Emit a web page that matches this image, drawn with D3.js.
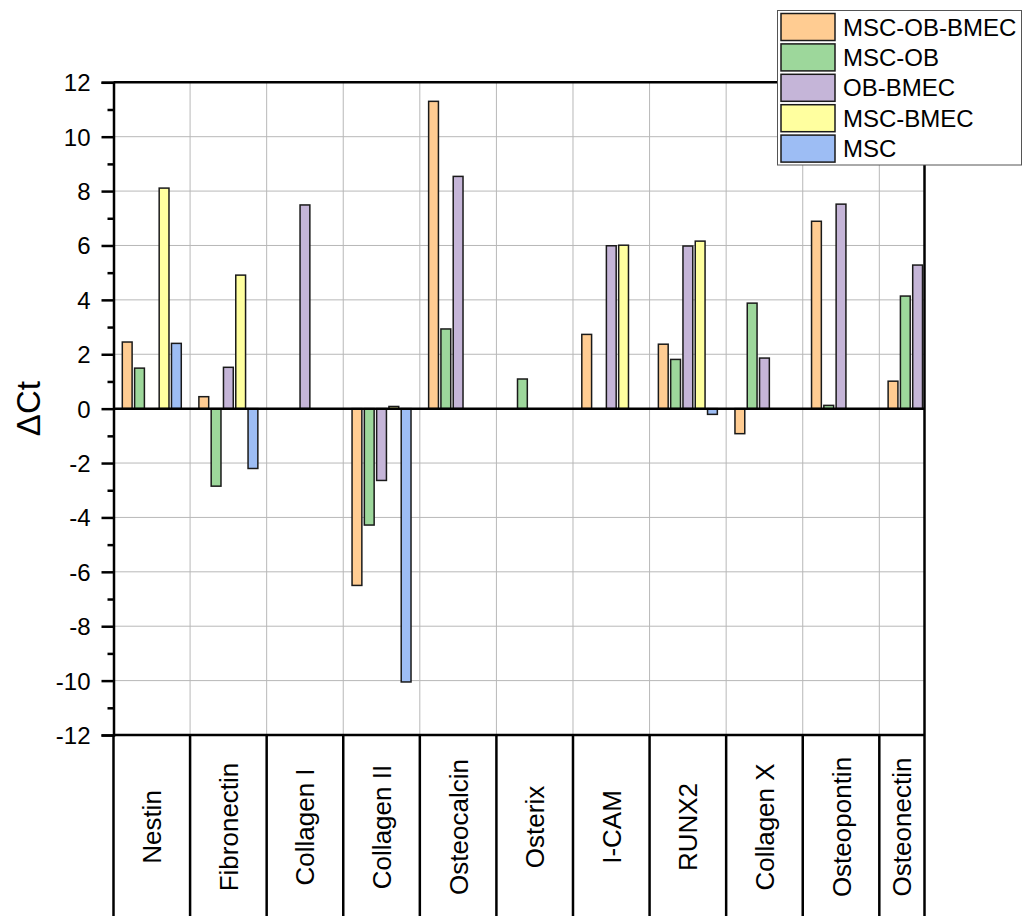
<!DOCTYPE html>
<html>
<head>
<meta charset="utf-8">
<script src="https://cdnjs.cloudflare.com/ajax/libs/d3/7.8.5/d3.min.js"></script>
<style>
  body { margin: 0; background: #fff; }
  text { font-family: "Liberation Sans", Arial, sans-serif; fill: #000; }
</style>
</head>
<body>
<div id="chart"></div>
<script>
// data
let categories = ["Nestin", "Fibronectin", "Collagen I", "Collagen II", "Osteocalcin", "Osterix",
                  "I-CAM", "RUNX2", "Collagen X", "Osteopontin", "Osteonectin"];
let seriesNames = ["MSC-OB-BMEC", "MSC-OB", "OB-BMEC", "MSC-BMEC", "MSC"];
let mscObBmec = [2.45, 0.44, null, -6.5, 11.3, null, 2.73, 2.37, -0.92, 6.89, 1.01];
let mscOb     = [1.49, -2.85, null, -4.28, 2.93, 1.09, null, 1.81, 3.88, 0.12, 4.14];
let obBmec    = [null, 1.52, 7.49, -2.64, 8.54, null, 5.99, 5.98, 1.86, 7.52, 5.28];
let mscBmec   = [8.11, 4.91, null, 0.08, null, null, 6.01, 6.16, null, null, null];
let msc       = [2.40, -2.2, null, -10.05, null, null, null, -0.21, null, null, null];
let majorTicks = [-12, -10, -8, -6, -4, -2, 0, 2, 4, 6, 8, 10, 12];
let minorTicks = [-11, -9, -7, -5, -3, -1, 1, 3, 5, 7, 9, 11];

let seriesValues = [mscObBmec, mscOb, obBmec, mscBmec, msc];
let colors = ["#ffcc92", "#9dd79b", "#c5b5d8", "#ffff9f", "#9dbdf4"];

let W = 1023, H = 916;
let plot = {left: 113.5, right: 924.5, top: 82.3, bottom: 735};

let svg = d3.select("#chart")
    .append("svg")
    .attr("width", W)
    .attr("height", H);

// x runs past the last edge on purpose: plot is cut inside Osteonectin
let x = d3.scaleLinear()
    .domain([0.5, 11.09])
    .range([plot.left, plot.right]);
let y = d3.scaleLinear()
    .domain([-12, 12])
    .range([plot.bottom, plot.top]);

let barPitch = 0.1605;   // in category units
let barW = 0.128;

// grid
svg.append("g")
    .selectAll("line")
    .data(majorTicks.filter(d => d > -12 && d < 12))
    .enter()
    .append("line")
    .attr("x1", plot.left).attr("x2", plot.right)
    .attr("y1", d => y(d)).attr("y2", d => y(d))
    .attr("stroke", "#b8b8b8").attr("stroke-width", 1);

let bounds = d3.range(1.5, 11, 1);
svg.append("g")
    .selectAll("line")
    .data(bounds)
    .enter()
    .append("line")
    .attr("x1", d => x(d)).attr("x2", d => x(d))
    .attr("y1", plot.top).attr("y2", plot.bottom)
    .attr("stroke", "#b8b8b8").attr("stroke-width", 1);

// bars
seriesValues.forEach(function (vals, s) {
    let data = vals.map((v, i) => ({ i: i + 1, v: v })).filter(d => d.v !== null);
    svg.append("g")
        .selectAll("rect")
        .data(data)
        .enter()
        .append("rect")
        .attr("x", d => x(d.i + (s - 2) * barPitch - barW / 2))
        .attr("width", d => x(d.i + barW / 2) - x(d.i - barW / 2))
        .attr("y", d => y(Math.max(0, d.v)))
        .attr("height", d => Math.abs(y(d.v) - y(0)))
        .attr("fill", colors[s])
        .attr("stroke", "#1a1a1a")
        .attr("stroke-width", 1.5);
});

// frame
function hline(yy) {
    svg.append("line")
        .attr("x1", plot.left).attr("x2", plot.right).attr("y1", yy).attr("y2", yy)
        .attr("stroke", "#000").attr("stroke-width", 2.5);
}
hline(y(0));
hline(plot.top);
hline(plot.bottom);
svg.append("line")
    .attr("x1", plot.right).attr("x2", plot.right).attr("y1", plot.top).attr("y2", plot.bottom)
    .attr("stroke", "#000").attr("stroke-width", 2.5);

// y axis
let yAxis = svg.append("g")
    .attr("transform", "translate(" + plot.left + ",0)")
    .call(d3.axisLeft(y).tickValues(majorTicks).tickSize(12).tickPadding(11)
        .tickFormat(d => String(d)));
yAxis.select(".domain").attr("stroke-width", 2.5);
yAxis.selectAll(".tick line").attr("stroke-width", 2.5);
yAxis.selectAll("text")
    .style("font-size", "24px")
    .attr("dy", "0.35em");

let yMinor = svg.append("g")
    .attr("transform", "translate(" + plot.left + ",0)")
    .call(d3.axisLeft(y).tickValues(minorTicks).tickSize(6).tickFormat(""));
yMinor.select(".domain").remove();
yMinor.selectAll(".tick line").attr("stroke-width", 2.5);

svg.append("text")
    .attr("transform", "translate(40," + y(0) + ") rotate(-90)")
    .attr("text-anchor", "middle")
    .style("font-size", "33px")
    .text("\u0394Ct");

// category table below the plot
let edges = d3.range(0.5, 11, 1).concat([11.09]);
svg.append("g")
    .selectAll("line")
    .data(edges)
    .enter()
    .append("line")
    .attr("x1", d => x(d)).attr("x2", d => x(d))
    .attr("y1", plot.bottom).attr("y2", H)
    .attr("stroke", "#000").attr("stroke-width", 2.5);

svg.append("g")
    .selectAll("text")
    .data(categories)
    .enter()
    .append("text")
    .attr("transform", (d, i) => "translate(" + (x(i + 1 > 10.5 ? 10.795 : i + 1) + 9.5) + ",827) rotate(-90)")
    .attr("text-anchor", "middle")
    .style("font-size", "26px")
    .text(d => d);

// legend
let legend = svg.append("g");
legend.append("rect")
    .attr("x", 777.5).attr("y", 10.5)
    .attr("width", 244).attr("height", 154.5)
    .attr("fill", "#fff").attr("stroke", "#555").attr("stroke-width", 1);
seriesNames.forEach(function (name, s) {
    let cy = 27 + s * 30.4;
    legend.append("rect")
        .attr("x", 781).attr("y", cy - 13.5)
        .attr("width", 54).attr("height", 27)
        .attr("fill", colors[s])
        .attr("stroke", "#1a1a1a").attr("stroke-width", 1.5);
    legend.append("text")
        .attr("x", 843).attr("y", cy + 8.5)
        .style("font-size", "24px")
        .text(name);
});
</script>
</body>
</html>
